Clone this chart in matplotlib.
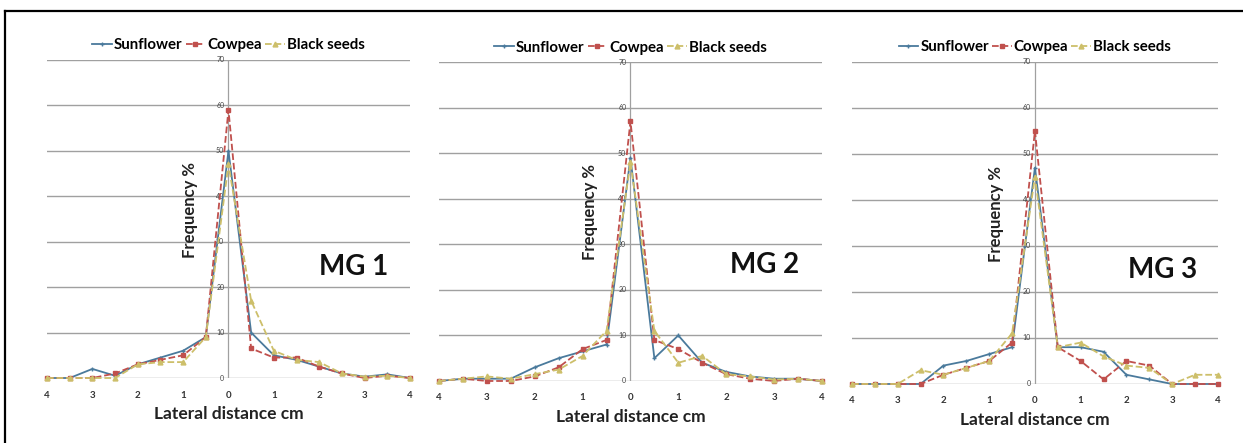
import matplotlib.pyplot as plt
from matplotlib.lines import Line2D

plt.rcParams['font.family'] = ['Lato', 'DejaVu Sans']

# lateral distance (cm), left side negative
x = [-4, -3.5, -3, -2.5, -2, -1.5, -1, -0.5, 0, 0.5, 1, 1.5, 2, 2.5, 3, 3.5, 4]
x_ticks = [-4, -3, -2, -1, 0, 1, 2, 3, 4]
x_tick_labels = ["4", "3", "2", "1", "0", "1", "2", "3", "4"]
y_ticks = [0, 10, 20, 30, 40, 50, 60, 70]
panels = ["MG 1", "MG 2", "MG 3"]
series_names = ["Sunflower", "Cowpea", "Black seeds"]

mg1_sunflower = [0, 0, 2, 0.5, 3, 4.5, 6, 9, 50, 10, 5, 4, 2.5, 1, 0.3, 0.8, 0]
mg1_cowpea = [0, 0, 0, 1, 3, 4, 5, 9, 59, 6.5, 4.5, 4.5, 2.5, 1, 0, 0.5, 0]
mg1_black = [0, 0, 0, 0, 3, 3.5, 3.5, 9, 47, 17, 6, 4, 3.5, 1, 0.3, 0.5, 0]

mg2_sunflower = [0, 0.5, 0.5, 0.5, 3, 5, 6.5, 8, 49, 5, 10, 4, 2, 1, 0.5, 0.5, 0]
mg2_cowpea = [0, 0.5, 0, 0, 1, 3, 7, 9, 57, 9, 7, 4, 1.5, 0.5, 0, 0.5, 0]
mg2_black = [0, 0.5, 1, 0.5, 1.5, 2.5, 5.5, 11, 48, 11, 4, 5.5, 1.5, 1, 0.3, 0.5, 0]

mg3_sunflower = [0, 0, 0, 0, 4, 5, 6.5, 8, 47, 8, 8, 7, 2, 1, 0, 0, 0]
mg3_cowpea = [0, 0, 0, 0, 2, 3.5, 5, 9, 55, 8, 5, 1, 5, 4, 0, 0, 0]
mg3_black = [0, 0, 0, 3, 2, 3.5, 5, 11, 45, 8, 9, 6, 4, 3.5, 0, 2, 2]

data = [
    [mg1_sunflower, mg1_cowpea, mg1_black],
    [mg2_sunflower, mg2_cowpea, mg2_black],
    [mg3_sunflower, mg3_cowpea, mg3_black],
]

colors = ["#4a7a9c", "#c0504d", "#cdbf6a"]
styles = ["-", "--", "--"]
markers = ["+", "s", "^"]

# axes boxes in figure fractions (left, bottom, width, height)
boxes = [
    (0.0378, 0.1467, 0.292, 0.718),
    (0.3532, 0.140, 0.308, 0.720),
    (0.6854, 0.1332, 0.2944, 0.727),
]
label_pos = [(2.75, 24.4), (2.8, 25.5), (2.8, 24.8)]

fig = plt.figure(figsize=(12.43, 4.43), dpi=100)

for i, name in enumerate(panels):
    ax = fig.add_axes(boxes[i])
    ax.set_xlim(-4, 4)
    ax.set_ylim(0, 70)
    for s in ax.spines.values():
        s.set_visible(False)
    for yv in y_ticks:
        ax.axhline(yv, color="#a0a0a0", lw=1.0, zorder=1)
        ax.annotate(str(yv), (0, yv), xytext=(-3, 0), textcoords="offset points",
                    ha="right", va="center", fontsize=5, color="#444444")
    ax.axvline(0, color="#a0a0a0", lw=0.9, zorder=1)

    for j, vals in enumerate(data[i]):
        ax.plot(x, vals, color=colors[j], ls=styles[j], lw=1.3, marker=markers[j],
                ms=3.5, mew=1.0, label=series_names[j], clip_on=False, zorder=3)

    ax.set_yticks([])
    ax.set_xticks(x_ticks)
    ax.set_xticklabels(x_tick_labels, fontsize=7, color="#333333", fontweight="bold")
    ax.tick_params(axis="x", length=0, pad=9)
    ax.set_xlabel("Lateral distance cm", fontsize=12.5, fontweight="bold", labelpad=5,
                  color="#222222")

    ax.text(-0.85, 37, "Frequency %", rotation=90, ha="center", va="center",
            fontsize=12, fontweight="bold", color="#222222")
    ax.text(label_pos[i][0], label_pos[i][1], name, ha="center", va="center",
            fontsize=20, fontweight="bold", color="#111111")

    ax.legend(loc="lower center", bbox_to_anchor=(0.5, 1.0), ncol=3, frameon=False,
              handlelength=1.3, handletextpad=0.15, columnspacing=0.2,
              prop={"weight": "bold", "size": 10.8}, borderaxespad=0.1)

# outer frame (top and left edges visible in the reference)
fig.add_artist(Line2D([5 / 1243, 1.0], [1 - 11 / 443, 1 - 11 / 443], color="black", lw=1.6,
                      transform=fig.transFigure))
fig.add_artist(Line2D([5 / 1243, 5 / 1243], [0.0, 1 - 11 / 443], color="black", lw=1.6,
                      transform=fig.transFigure))

fig.savefig("out.png", dpi=100)
